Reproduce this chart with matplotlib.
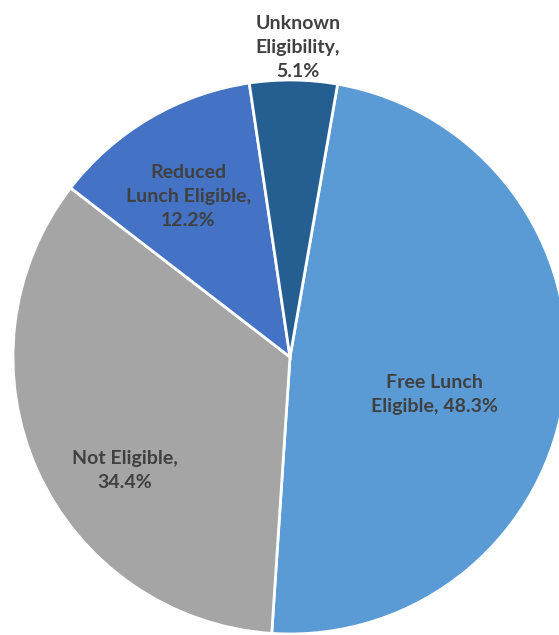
import matplotlib.pyplot as plt
import numpy as np

# Data
categories = ['Free Lunch\nEligible, 48.3%', 'Not Eligible,\n34.4%',
              'Reduced\nLunch Eligible,\n12.2%', 'Unknown\nEligibility,\n5.1%']
shares = [48.3, 34.4, 12.2, 5.1]
colors = ['#5B9BD5', '#A5A5A5', '#4472C4', '#255E91']

# label spots (pie radius = 1)
label_xy = [(0.523, -0.137), (-0.596, -0.408), (-0.368, 0.578), (0.029, 1.119)]

W, H = 559, 635
cx, cy, R = 290, 357, 277

fig = plt.figure(figsize=(W / 100, H / 100), dpi=100)
ax = fig.add_axes([0, 0, 1, 1])
ax.pie(shares, colors=colors, startangle=80.1, counterclock=False,
       radius=1, wedgeprops=dict(edgecolor='white', linewidth=2))
ax.set_xlim(-cx / R, (W - cx) / R)
ax.set_ylim(-(H - cy) / R, cy / R)
ax.set_aspect('equal')
ax.axis('off')

for lab, (x, y) in zip(categories, label_xy):
    ax.text(x, y, lab, ha='center', va='center', fontsize=14,
            fontweight='bold', family=['Lato', 'DejaVu Sans'],
            color='#404040', linespacing=1.5)

plt.savefig('out.png', dpi=100)
